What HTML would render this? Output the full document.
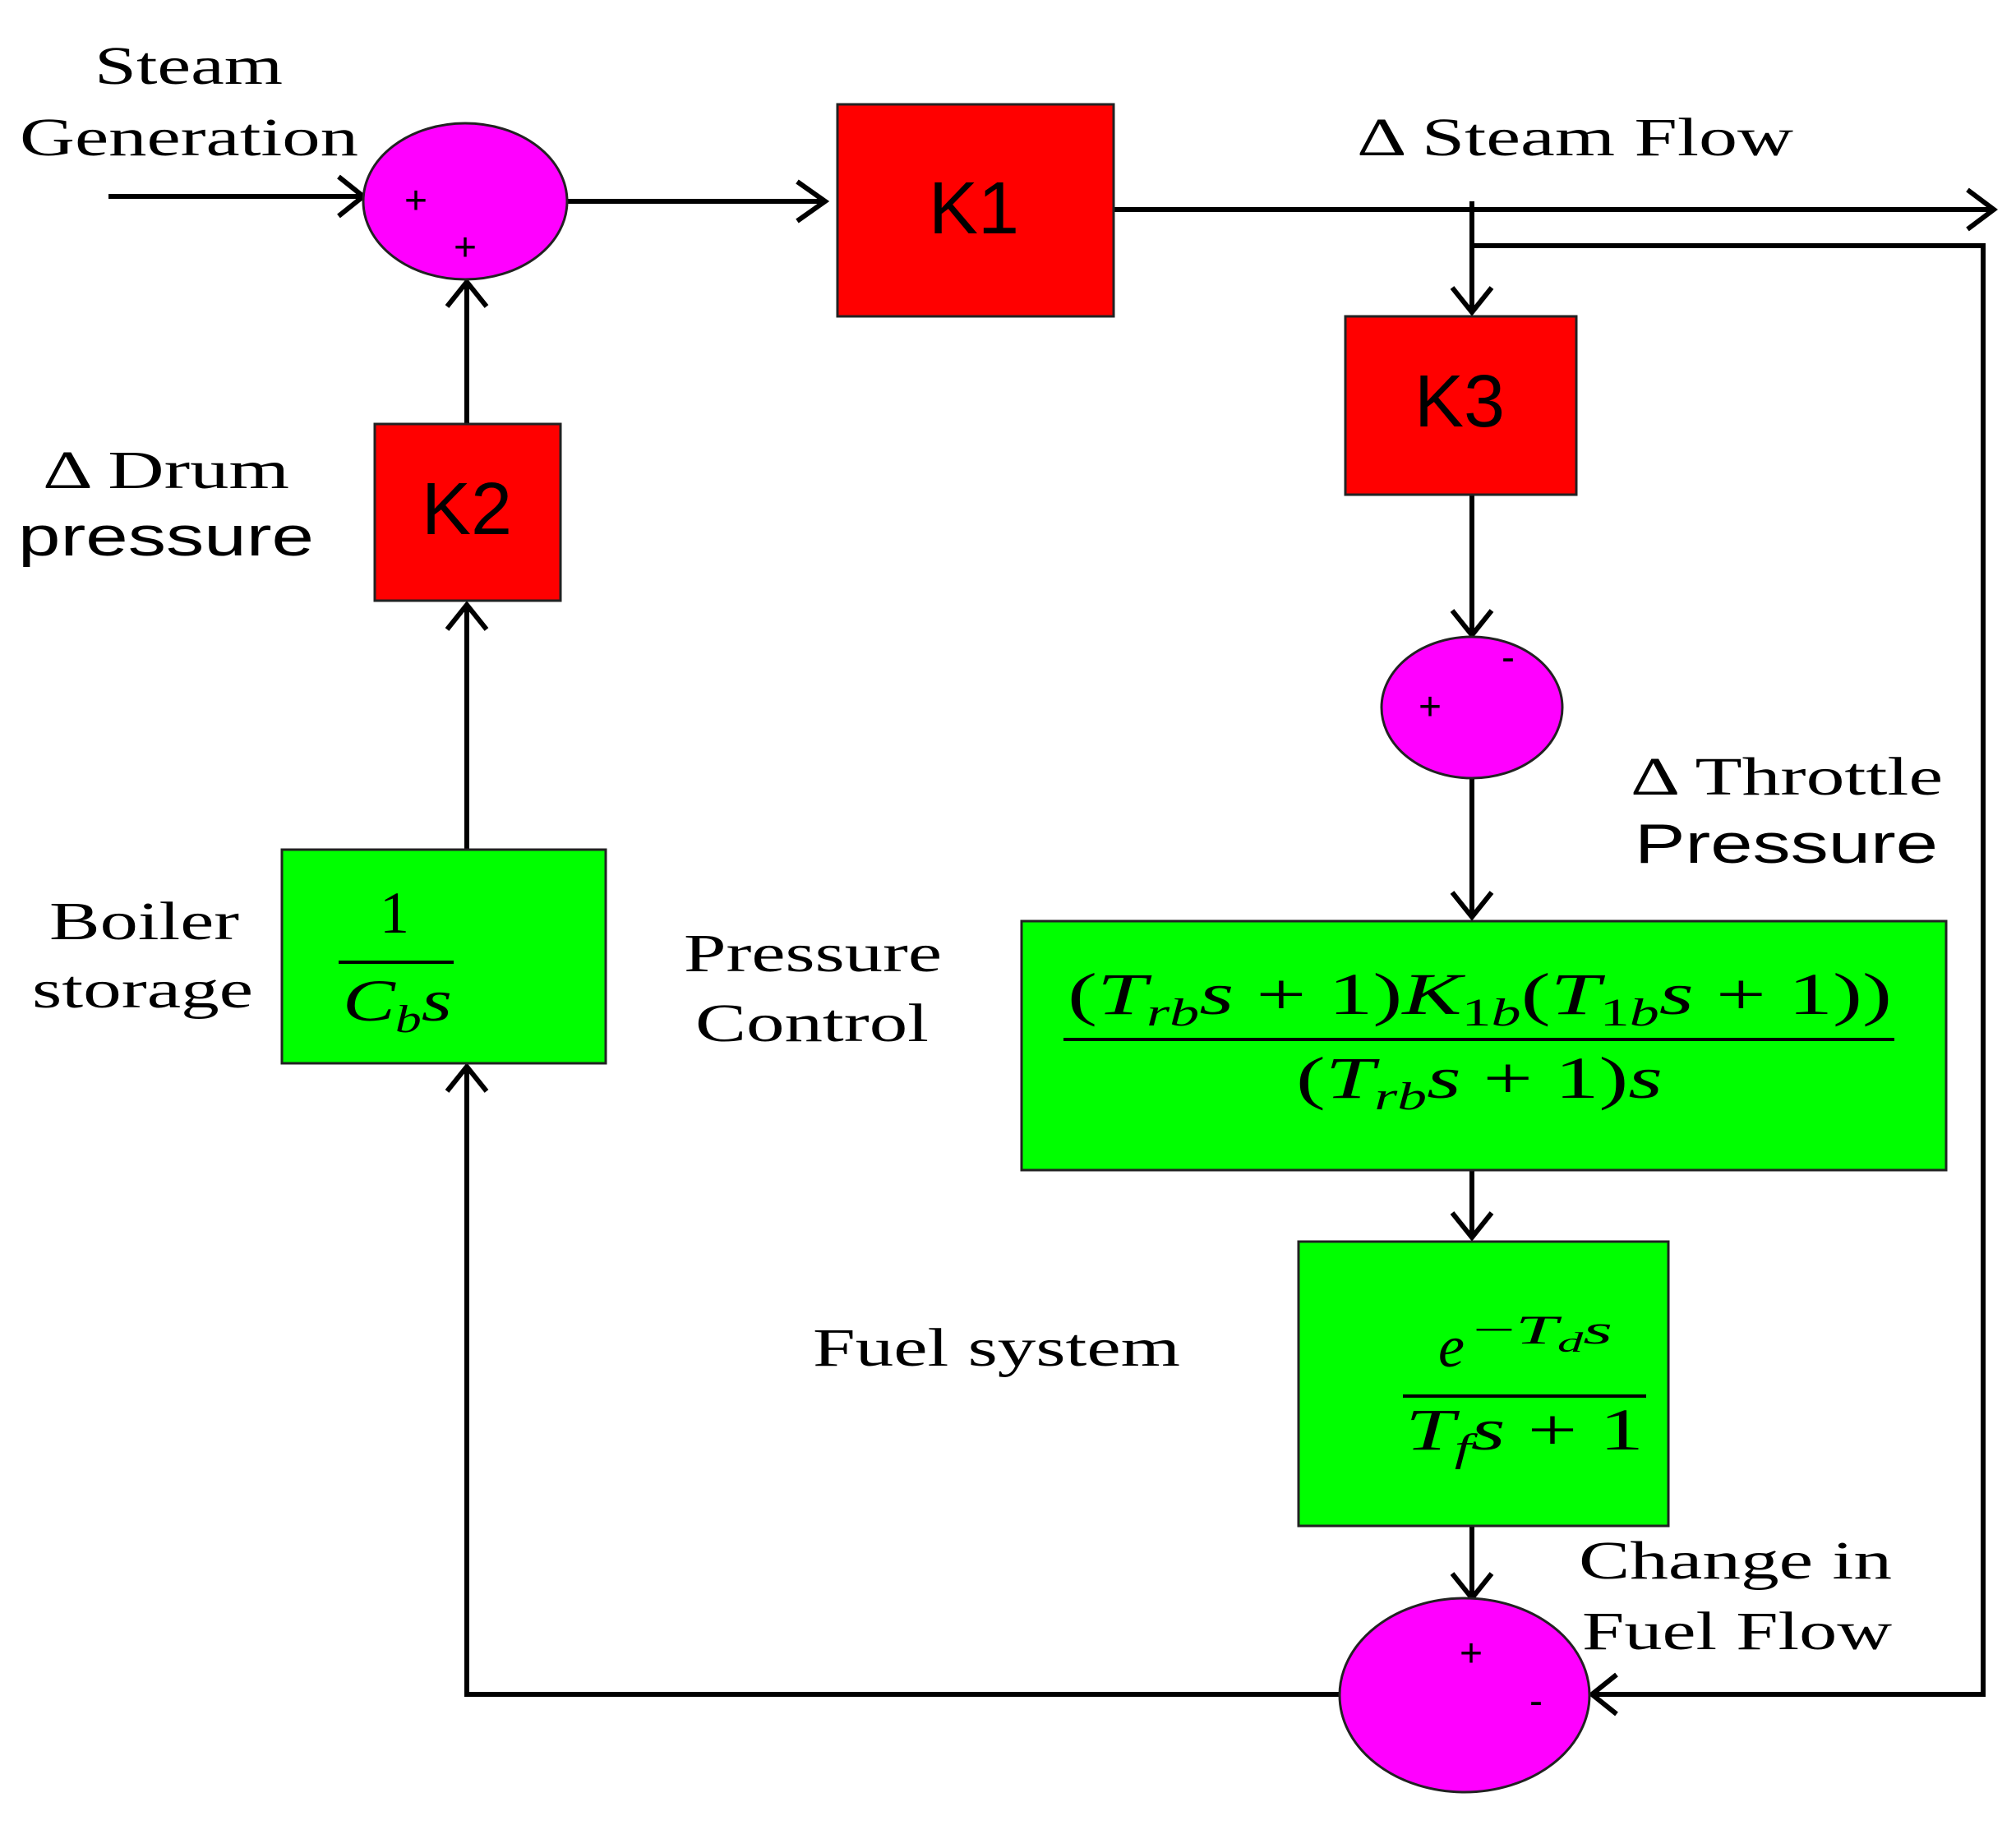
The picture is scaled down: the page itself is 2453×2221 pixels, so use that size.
<!DOCTYPE html>
<html><head><meta charset="utf-8"><style>html,body{margin:0;padding:0;background:#fff}svg{display:block}</style></head>
<body>
<svg width="2453" height="2221" viewBox="0 0 2453 2221" xmlns="http://www.w3.org/2000/svg">
<g stroke="#000" stroke-width="6" fill="none" stroke-linecap="butt" stroke-linejoin="miter">
  <line x1="132" y1="239" x2="442" y2="239"/>
  <polyline points="412,215 442,239 412,263"/>
  <line x1="690" y1="245" x2="1004" y2="245"/>
  <polyline points="970,221 1004,245 970,269"/>
  <line x1="1355" y1="255" x2="2426" y2="255"/>
  <polyline points="2394,231 2426,255 2394,279"/>
  <line x1="1791" y1="245" x2="1791" y2="380"/>
  <polyline points="1767,350 1791,380 1815,350"/>
  <polyline points="1791,299 2413,299 2413,2062 1937,2062"/>
  <polyline points="1967,2038 1937,2062 1967,2086"/>
  <line x1="1791" y1="602" x2="1791" y2="773"/>
  <polyline points="1767,743 1791,773 1815,743"/>
  <line x1="1791" y1="947" x2="1791" y2="1116"/>
  <polyline points="1767,1086 1791,1116 1815,1086"/>
  <line x1="1791" y1="1424" x2="1791" y2="1506"/>
  <polyline points="1767,1476 1791,1506 1815,1476"/>
  <line x1="1791" y1="1857" x2="1791" y2="1945"/>
  <polyline points="1767,1915 1791,1945 1815,1915"/>
  <polyline points="1630,2062 568,2062 568,1298"/>
  <polyline points="544,1328 568,1298 592,1328"/>
  <line x1="568" y1="1034" x2="568" y2="736"/>
  <polyline points="544,766 568,736 592,766"/>
  <line x1="568" y1="516" x2="568" y2="343"/>
  <polyline points="544,373 568,343 592,373"/>
</g>
<g stroke="#222" stroke-width="3">
  <ellipse cx="566" cy="245" rx="124" ry="95" fill="#ff00ff"/>
  <ellipse cx="1791" cy="861" rx="110" ry="86" fill="#ff00ff"/>
  <ellipse cx="1782" cy="2063" rx="152" ry="118" fill="#ff00ff"/>
  <rect x="1019" y="127" width="336" height="258" fill="#ff0000"/>
  <rect x="456" y="516" width="226" height="215" fill="#ff0000"/>
  <rect x="1637" y="385" width="281" height="217" fill="#ff0000"/>
  <rect x="343" y="1034" width="394" height="260" fill="#00ff00"/>
  <rect x="1243" y="1121" width="1125" height="303" fill="#00ff00"/>
  <rect x="1580" y="1511" width="450" height="346" fill="#00ff00"/>
</g>
<g font-family="Liberation Sans, sans-serif" font-size="48" fill="#000" text-anchor="middle">
  <text x="506" y="260">+</text><text x="566" y="317">+</text>
  <text x="1740" y="876">+</text><text x="1835" y="816">-</text>
  <text x="1790" y="2028">+</text><text x="1869" y="2086">-</text>
</g>
<g font-family="Liberation Sans, sans-serif" font-size="90" fill="#000" text-anchor="middle">
  <text x="1185" y="284">K1</text>
  <text x="568" y="650">K2</text>
  <text x="1776" y="519">K3</text>
</g>
<g font-family="Liberation Serif, serif" font-size="66" fill="#000">
  <text x="115" y="102" textLength="229" lengthAdjust="spacingAndGlyphs">Steam</text>
  <text x="24" y="189" textLength="412" lengthAdjust="spacingAndGlyphs">Generation</text>
  <text x="1651" y="189" textLength="531" lengthAdjust="spacingAndGlyphs">Δ Steam Flow</text>
  <text x="52" y="594" textLength="300" lengthAdjust="spacingAndGlyphs">Δ Drum</text>
  <text x="60" y="1143" textLength="231" lengthAdjust="spacingAndGlyphs">Boiler</text>
  <text x="39" y="1226" textLength="269" lengthAdjust="spacingAndGlyphs">storage</text>
  <text x="832" y="1182" textLength="314" lengthAdjust="spacingAndGlyphs">Pressure</text>
  <text x="846" y="1267" textLength="284" lengthAdjust="spacingAndGlyphs">Control</text>
  <text x="1984" y="967" textLength="380" lengthAdjust="spacingAndGlyphs">Δ Throttle</text>
  <text x="989" y="1662" textLength="447" lengthAdjust="spacingAndGlyphs">Fuel system</text>
  <text x="1921" y="1921" textLength="381" lengthAdjust="spacingAndGlyphs">Change in</text>
  <text x="1925" y="2007" textLength="377" lengthAdjust="spacingAndGlyphs">Fuel Flow</text>
</g>
<g font-family="Liberation Sans, sans-serif" font-size="68" fill="#000">
  <text x="22" y="676" textLength="360" lengthAdjust="spacingAndGlyphs">pressure</text>
  <text x="1989" y="1050" textLength="369" lengthAdjust="spacingAndGlyphs">Pressure</text>
</g>
<g font-family="Liberation Serif, serif" font-size="72" fill="#000">
  <text x="1299" y="1234" textLength="1003" lengthAdjust="spacingAndGlyphs">(<tspan font-style="italic">T</tspan><tspan font-style="italic" font-size="48" dy="14">rb</tspan><tspan font-style="italic" dy="-14">s</tspan> + 1)<tspan font-style="italic">K</tspan><tspan font-size="48" dy="14">1</tspan><tspan font-style="italic" font-size="48">b</tspan><tspan dy="-14">(</tspan><tspan font-style="italic">T</tspan><tspan font-size="48" dy="14">1</tspan><tspan font-style="italic" font-size="48">b</tspan><tspan font-style="italic" dy="-14">s</tspan> + 1))</text>
  <text x="1577" y="1336" textLength="446" lengthAdjust="spacingAndGlyphs">(<tspan font-style="italic">T</tspan><tspan font-style="italic" font-size="48" dy="14">rb</tspan><tspan font-style="italic" dy="-14">s</tspan> + 1)<tspan font-style="italic">s</tspan></text>
  <text x="480" y="1135" text-anchor="middle">1</text>
  <text x="417" y="1242" textLength="133" lengthAdjust="spacingAndGlyphs"><tspan font-style="italic">C</tspan><tspan font-style="italic" font-size="48" dy="14">b</tspan><tspan font-style="italic" dy="-14">s</tspan></text>
  <text x="1750" y="1663" font-style="italic">e</text>
  <text x="1792" y="1635" font-size="50" textLength="170" lengthAdjust="spacingAndGlyphs">−<tspan font-style="italic">T</tspan><tspan font-style="italic" font-size="34" dy="10">d</tspan><tspan font-style="italic" dy="-10">s</tspan></text>
  <text x="1710" y="1764" textLength="290" lengthAdjust="spacingAndGlyphs"><tspan font-style="italic">T</tspan><tspan font-style="italic" font-size="48" dy="14">f</tspan><tspan font-style="italic" dy="-14">s</tspan> + 1</text>
</g>
<g stroke="#000" stroke-width="4">
  <line x1="1294" y1="1265" x2="2305" y2="1265"/>
  <line x1="412" y1="1171" x2="552" y2="1171"/>
  <line x1="1707" y1="1699" x2="2003" y2="1699"/>
</g>
</svg>
</body></html>
